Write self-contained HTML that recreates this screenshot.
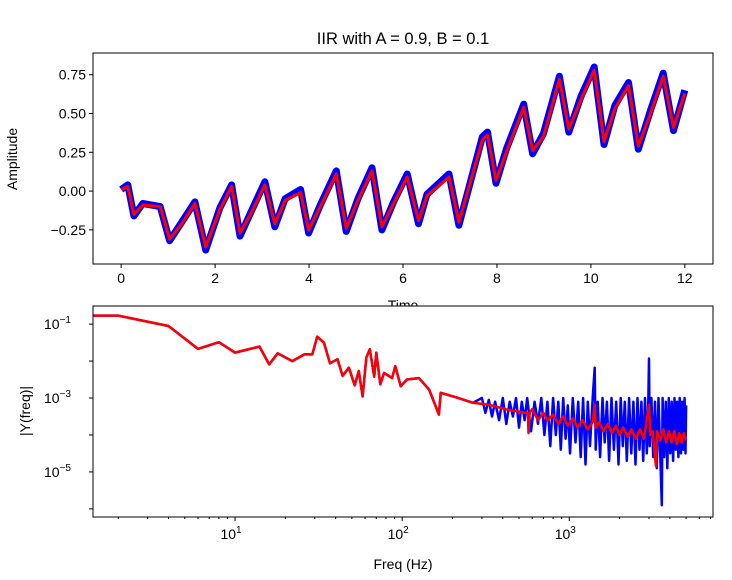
<!DOCTYPE html>
<html><head><meta charset="utf-8">
<style>
body{margin:0;background:#fff;}
svg{display:block;font-family:"Liberation Sans","DejaVu Sans",sans-serif;}
</style></head>
<body>
<svg id="fig" width="732" height="580" viewBox="0 0 732 580">
<rect width="732" height="580" fill="#fff"/>
<text x="403" y="44" font-size="16.5" text-anchor="middle">IIR with A = 0.9, B = 0.1</text>
<text x="403" y="310" font-size="14" text-anchor="middle">Time</text>
<text transform="translate(17,159) rotate(-90)" font-size="14" text-anchor="middle">Amplitude</text>
<g id="topPlot"></g>
<g id="botPlot"></g>
<text x="403" y="569" font-size="14" text-anchor="middle">Freq (Hz)</text>
<text transform="translate(30,411) rotate(-90)" font-size="14" text-anchor="middle">|Y(freq)|</text>
</svg>
<script>
// ---- top chart data ----
const timeVals = [0,0.14,0.27,0.46,0.83,1.03,1.29,1.57,1.80,2.10,2.35,2.53,2.77,3.06,3.27,3.49,3.82,3.99,4.24,4.58,4.79,5.04,5.34,5.55,5.80,6.09,6.33,6.51,6.98,7.19,7.69,7.80,7.98,8.20,8.57,8.76,8.99,9.33,9.53,9.79,10.07,10.28,10.51,10.80,11.01,11.27,11.54,11.76,12.0];
const filteredAmp = [0.01,0.03,-0.15,-0.09,-0.10,-0.31,-0.21,-0.08,-0.36,-0.12,0.03,-0.27,-0.14,0.04,-0.21,-0.06,-0.01,-0.25,-0.10,0.11,-0.24,-0.06,0.13,-0.23,-0.08,0.09,-0.19,-0.03,0.09,-0.20,0.33,0.36,0.07,0.25,0.54,0.26,0.35,0.72,0.40,0.59,0.78,0.32,0.53,0.68,0.29,0.50,0.74,0.41,0.63];
const rawAmp = [0.01,0.04,-0.16,-0.08,-0.10,-0.32,-0.20,-0.07,-0.38,-0.11,0.04,-0.29,-0.13,0.06,-0.23,-0.05,0.01,-0.27,-0.09,0.13,-0.26,-0.05,0.15,-0.25,-0.07,0.11,-0.21,-0.02,0.11,-0.22,0.35,0.38,0.05,0.27,0.56,0.24,0.37,0.74,0.38,0.61,0.80,0.30,0.55,0.70,0.27,0.52,0.76,0.39,0.65];
const topXTicks = [0,2,4,6,8,10,12];
const topYTicks = [-0.25,0,0.25,0.5,0.75];
const topYLabels = ["\u22120.25","0.00","0.25","0.50","0.75"];
// ---- bottom chart data (log10 magnitude) ----
const redFreq = [1,2,4,6,8,10,14,16,18,22,26,29,31,34,37,41,44,48,52,55,58,61,64,68,70,74,78,87,91,98,107,126,145,166,170,213,265,330,430,565,570,580,600,650,700,740,800,860,920,980,1050,1120,1200,1290,1380,1420,1440,1500,1600,1700,1800,1900,2000,2100,2240,2350,2500,2650,2800,3000,3050,3150,3300,3350,3500,3650,3800,3950,4100,4250,4400,4550,4700,4850,5000];
const redLogMag = [-0.77,-0.77,-1.05,-1.67,-1.49,-1.77,-1.61,-2.09,-1.79,-2.0,-1.82,-1.82,-1.34,-1.50,-2.06,-1.95,-2.40,-2.18,-2.66,-2.27,-2.96,-1.91,-1.68,-2.42,-1.77,-2.63,-2.32,-2.46,-2.14,-2.68,-2.5,-2.46,-2.77,-3.45,-2.86,-2.99,-3.13,-3.18,-3.32,-3.41,-3.95,-3.40,-3.3,-3.6,-3.4,-3.6,-3.45,-3.7,-3.5,-3.75,-3.55,-3.8,-3.6,-3.85,-3.65,-3.18,-3.8,-3.65,-3.9,-3.7,-3.95,-3.75,-4.0,-3.8,-4.05,-3.85,-4.1,-3.85,-4.1,-3.18,-4.0,-3.9,-4.84,-3.9,-4.15,-3.85,-4.2,-3.9,-4.2,-3.9,-4.25,-3.95,-4.2,-3.95,-4.15];
const blueFreq = [300,315,330,345,360,380,400,420,440,460,480,500,520,540,560,590,620,650,680,710,740,770,800,830,860,890,920,950,980,1010,1050,1090,1130,1170,1210,1250,1290,1330,1380,1420,1440,1480,1530,1580,1630,1680,1730,1790,1850,1910,1970,2030,2090,2150,2210,2280,2350,2420,2490,2560,2630,2700,2770,2840,2910,2970,3000,3030,3100,3180,3260,3340,3420,3500,3580,3620,3700,3780,3860,3940,4020,4100,4180,4260,4340,4420,4500,4580,4660,4740,4820,4900,4960,5000];
const blueLogMag = [-3.0,-3.4,-3.05,-3.5,-3.1,-3.6,-3.0,-3.7,-3.1,-3.5,-3.0,-3.8,-3.1,-3.6,-3.0,-3.9,-3.1,-3.7,-3.0,-4.0,-3.1,-4.3,-3.0,-4.0,-3.1,-4.4,-3.0,-4.1,-3.2,-4.5,-3.0,-4.2,-3.1,-4.6,-3.0,-4.8,-3.1,-4.3,-3.0,-2.18,-4.4,-3.1,-4.6,-3.0,-4.2,-3.1,-4.7,-3.0,-4.4,-3.1,-4.8,-3.0,-4.3,-3.1,-4.7,-3.0,-4.5,-3.1,-4.8,-3.0,-4.4,-3.1,-4.7,-3.0,-4.5,-3.1,-1.93,-4.3,-3.0,-4.6,-3.1,-4.9,-3.0,-4.5,-5.9,-3.0,-4.6,-3.1,-4.9,-3.0,-4.5,-3.1,-4.7,-3.0,-4.4,-3.1,-4.6,-3.0,-4.5,-3.1,-4.4,-3.0,-4.5,-3.2];
const botXTickExp = [1,2,3];
const botYTickExp = [-1,-3,-5];

const NS="http://www.w3.org/2000/svg";
function mk(parent,tag,attrs){const e=document.createElementNS(NS,tag);for(const k in attrs)e.setAttribute(k,attrs[k]);parent.appendChild(e);return e;}

// top axes
const T={x0:93,x1:713,y0:53,y1:264,xmin:-0.6,xmax:12.6,ymin:-0.47,ymax:0.89};
const tx=v=>T.x0+(v-T.xmin)/(T.xmax-T.xmin)*(T.x1-T.x0);
const ty=v=>T.y1-(v-T.ymin)/(T.ymax-T.ymin)*(T.y1-T.y0);
const topG=document.getElementById('topPlot');
let d=timeVals.map((t,i)=>(i?'L':'M')+tx(t).toFixed(1)+','+ty(rawAmp[i]).toFixed(1)).join('');
let p=mk(topG,'path',{d:d,fill:'none',stroke:'#0000ff','stroke-width':7,'stroke-linejoin':'round'});


d=timeVals.map((t,i)=>(i?'L':'M')+tx(t).toFixed(1)+','+ty(filteredAmp[i]).toFixed(1)).join('');
p=mk(topG,'path',{d:d,fill:'none',stroke:'#ff0000','stroke-width':3,'stroke-linejoin':'round'});


topXTicks.forEach(v=>{const x=tx(v);
 mk(topG,'line',{x1:x,x2:x,y1:T.y1,y2:T.y1+4,stroke:'#000'});
 const t=mk(topG,'text',{x:x,y:T.y1+19,'font-size':14,'text-anchor':'middle'});t.textContent=v;
 
 });
topYTicks.forEach((v,i)=>{const y=ty(v);
 mk(topG,'line',{x1:T.x0-4,x2:T.x0,y1:y,y2:y,stroke:'#000'});
 const t=mk(topG,'text',{x:T.x0-7,y:y+5,'font-size':14,'text-anchor':'end'});t.textContent=topYLabels[i];
 
 });
p=mk(topG,'rect',{x:T.x0,y:T.y0,width:T.x1-T.x0,height:T.y1-T.y0,fill:'none',stroke:'#000','stroke-width':1});



// bottom axes
const B={x0:93,x1:713,y0:306,y1:517,lxmin:0.15,lxmax:3.86,lymin:-6.22,lymax:-0.51};
const bx=f=>B.x0+(Math.log10(f)-B.lxmin)/(B.lxmax-B.lxmin)*(B.x1-B.x0);
const by=l=>B.y1-(l-B.lymin)/(B.lymax-B.lymin)*(B.y1-B.y0);
const botG=document.getElementById('botPlot');
mk(botG,'rect',{x:B.x0,y:B.y0,width:B.x1-B.x0,height:B.y1-B.y0,fill:'#fff'});
const defs=mk(botG,'defs',{});const cp=mk(defs,'clipPath',{id:'bc'});
mk(cp,'rect',{x:B.x0,y:B.y0,width:B.x1-B.x0,height:B.y1-B.y0});
const g=mk(botG,'g',{'clip-path':'url(#bc)'});
let bpts=[];redFreq.forEach((f,i)=>{if(f<300)bpts.push([f,redLogMag[i]]);});
blueFreq.forEach((f,i)=>bpts.push([f,blueLogMag[i]]));
d=bpts.map((q,i)=>(i?'L':'M')+bx(q[0]).toFixed(1)+','+by(q[1]).toFixed(1)).join('');
p=mk(g,'path',{d:d,fill:'none',stroke:'#0000ff','stroke-width':2.5,'stroke-linejoin':'round'});


d=redFreq.map((f,i)=>(i?'L':'M')+bx(f).toFixed(1)+','+by(redLogMag[i]).toFixed(1)).join('');
p=mk(g,'path',{d:d,fill:'none',stroke:'#ff0000','stroke-width':2.5,'stroke-linejoin':'round'});


for(let e=0;e<=3;e++){for(let m=1;m<=9;m++){const f=m*Math.pow(10,e);const lf=Math.log10(f);
 if(lf<B.lxmin||lf>B.lxmax)continue;const x=bx(f);
 mk(botG,'line',{x1:x,x2:x,y1:B.y1,y2:B.y1+(m===1?4:2),stroke:'#000'});}}
botXTickExp.forEach(e=>{const x=bx(Math.pow(10,e));
 const t=mk(botG,'text',{x:x-4,y:B.y1+22,'font-size':14,'text-anchor':'middle'});
 t.textContent='10';const s=mk(t,'tspan',{dy:-6,'font-size':10});s.textContent=e;
 
 });
for(let e=-6;e<=-1;e++){const y=by(e);mk(botG,'line',{x1:B.x0-4,x2:B.x0,y1:y,y2:y,stroke:'#000'});}
botYTickExp.forEach(e=>{const y=by(e);
 const t=mk(botG,'text',{x:B.x0-22,y:y+5,'font-size':14,'text-anchor':'end'});
 t.textContent='10';const s=mk(t,'tspan',{dy:-6,'font-size':10});s.textContent='\u2212'+(-e);
 
 });
p=mk(botG,'rect',{x:B.x0,y:B.y0,width:B.x1-B.x0,height:B.y1-B.y0,fill:'none',stroke:'#000','stroke-width':1});


</script>
</body></html>
